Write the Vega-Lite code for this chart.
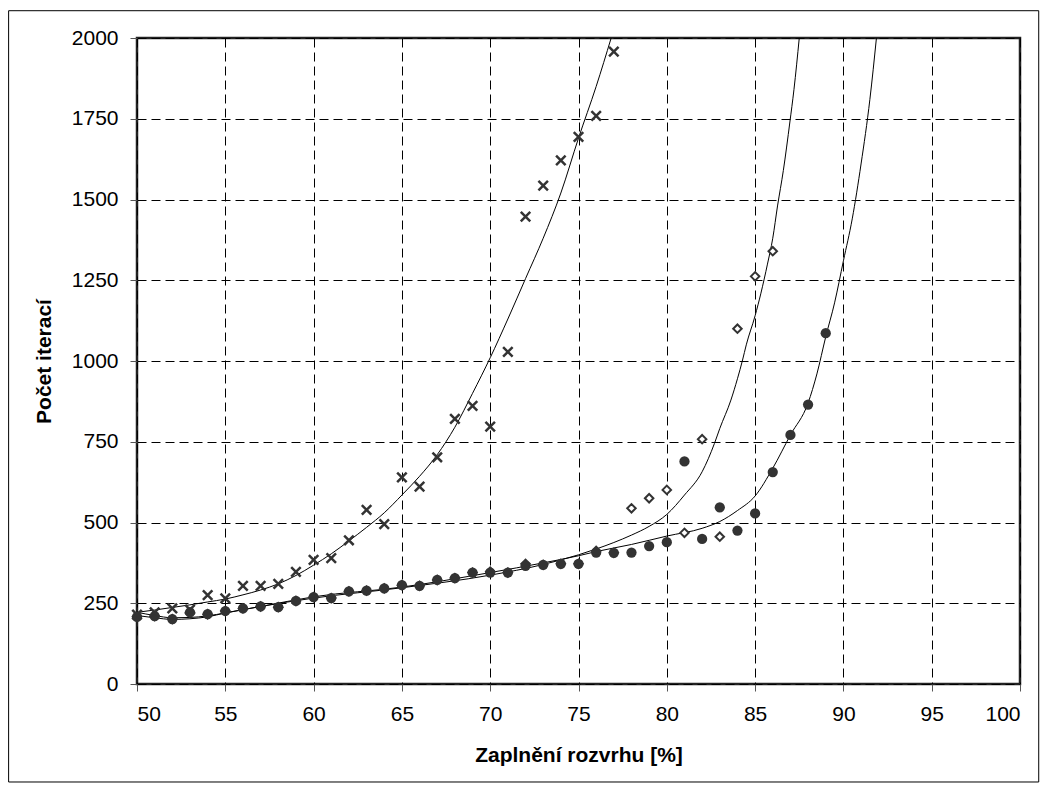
{
  "$schema": "https://vega.github.io/schema/vega-lite/v6.json",
  "width": 883,
  "height": 646,
  "autosize": {"type": "none"},
  "padding": {"left": 137, "top": 38, "right": 24, "bottom": 107},
  "background": "white",
  "config": {
    "font": "Liberation Sans",
    "view": {"stroke": "#222", "strokeWidth": 2.5},
    "axis": {
      "labelFont": "Liberation Sans",
      "labelFontSize": 21,
      "labelColor": "#000",
      "titleFont": "Liberation Sans",
      "titleFontSize": 21,
      "titleFontWeight": "bold",
      "titleColor": "#000",
      "domain": false,
      "tickColor": "#555",
      "tickSize": 7,
      "tickWidth": 1,
      "grid": true,
      "gridColor": "#000",
      "gridDash": [9, 5],
      "gridWidth": 1,
      "gridOpacity": 1
    }
  },
  "datasets": {
    "pts": [
      {"x": 50, "y": 208, "s": "d"}, {"x": 51, "y": 210, "s": "d"}, {"x": 52, "y": 201, "s": "d"}, {"x": 53, "y": 222, "s": "d"}, {"x": 54, "y": 216, "s": "d"}, {"x": 55, "y": 226, "s": "d"}, {"x": 56, "y": 234, "s": "d"}, {"x": 57, "y": 240, "s": "d"}, {"x": 58, "y": 238, "s": "d"}, {"x": 59, "y": 257, "s": "d"}, {"x": 60, "y": 269, "s": "d"}, {"x": 61, "y": 266, "s": "d"}, {"x": 62, "y": 287, "s": "d"}, {"x": 63, "y": 289, "s": "d"}, {"x": 64, "y": 296, "s": "d"}, {"x": 65, "y": 306, "s": "d"}, {"x": 66, "y": 304, "s": "d"}, {"x": 67, "y": 322, "s": "d"}, {"x": 68, "y": 328, "s": "d"}, {"x": 69, "y": 345, "s": "d"}, {"x": 70, "y": 348, "s": "d"}, {"x": 71, "y": 345, "s": "d"}, {"x": 72, "y": 372, "s": "d"}, {"x": 73, "y": 369, "s": "d"}, {"x": 74, "y": 372, "s": "d"}, {"x": 75, "y": 372, "s": "d"}, {"x": 76, "y": 412, "s": "d"}, {"x": 77, "y": 406, "s": "d"},
      {"x": 78, "y": 544, "s": "d"}, {"x": 79, "y": 575, "s": "d"}, {"x": 80, "y": 601, "s": "d"}, {"x": 81, "y": 468, "s": "d"}, {"x": 82, "y": 758, "s": "d"}, {"x": 83, "y": 456, "s": "d"}, {"x": 84, "y": 1100, "s": "d"}, {"x": 85, "y": 1262, "s": "d"}, {"x": 86, "y": 1340, "s": "d"},
      {"x": 50, "y": 208, "s": "c"}, {"x": 51, "y": 210, "s": "c"}, {"x": 52, "y": 201, "s": "c"}, {"x": 53, "y": 222, "s": "c"}, {"x": 54, "y": 216, "s": "c"}, {"x": 55, "y": 226, "s": "c"}, {"x": 56, "y": 234, "s": "c"}, {"x": 57, "y": 240, "s": "c"}, {"x": 58, "y": 238, "s": "c"}, {"x": 59, "y": 257, "s": "c"}, {"x": 60, "y": 269, "s": "c"}, {"x": 61, "y": 266, "s": "c"}, {"x": 62, "y": 287, "s": "c"}, {"x": 63, "y": 289, "s": "c"}, {"x": 64, "y": 296, "s": "c"}, {"x": 65, "y": 306, "s": "c"}, {"x": 66, "y": 304, "s": "c"}, {"x": 67, "y": 322, "s": "c"}, {"x": 68, "y": 328, "s": "c"}, {"x": 69, "y": 345, "s": "c"}, {"x": 70, "y": 345, "s": "c"}, {"x": 71, "y": 345, "s": "c"}, {"x": 72, "y": 366, "s": "c"}, {"x": 73, "y": 369, "s": "c"}, {"x": 74, "y": 372, "s": "c"}, {"x": 75, "y": 372, "s": "c"}, {"x": 76, "y": 407, "s": "c"}, {"x": 77, "y": 406, "s": "c"}, {"x": 78, "y": 407, "s": "c"}, {"x": 79, "y": 427, "s": "c"}, {"x": 80, "y": 439, "s": "c"}, {"x": 81, "y": 689, "s": "c"}, {"x": 82, "y": 449, "s": "c"}, {"x": 83, "y": 547, "s": "c"}, {"x": 84, "y": 475, "s": "c"}, {"x": 85, "y": 528, "s": "c"}, {"x": 86, "y": 656, "s": "c"}, {"x": 87, "y": 771, "s": "c"}, {"x": 88, "y": 865, "s": "c"}, {"x": 89, "y": 1086, "s": "c"},
      {"x": 50, "y": 215, "s": "x"}, {"x": 51, "y": 222, "s": "x"}, {"x": 52, "y": 234, "s": "x"}, {"x": 53, "y": 230, "s": "x"}, {"x": 54, "y": 275, "s": "x"}, {"x": 55, "y": 265, "s": "x"}, {"x": 56, "y": 304, "s": "x"}, {"x": 57, "y": 304, "s": "x"}, {"x": 58, "y": 310, "s": "x"}, {"x": 59, "y": 347, "s": "x"}, {"x": 60, "y": 384, "s": "x"}, {"x": 61, "y": 390, "s": "x"}, {"x": 62, "y": 445, "s": "x"}, {"x": 63, "y": 539, "s": "x"}, {"x": 64, "y": 495, "s": "x"}, {"x": 65, "y": 640, "s": "x"}, {"x": 66, "y": 611, "s": "x"}, {"x": 67, "y": 702, "s": "x"}, {"x": 68, "y": 821, "s": "x"}, {"x": 69, "y": 861, "s": "x"}, {"x": 70, "y": 797, "s": "x"}, {"x": 71, "y": 1028, "s": "x"}, {"x": 72, "y": 1447, "s": "x"}, {"x": 73, "y": 1543, "s": "x"}, {"x": 74, "y": 1621, "s": "x"}, {"x": 75, "y": 1694, "s": "x"}, {"x": 76, "y": 1759, "s": "x"}, {"x": 77, "y": 1958, "s": "x"}
    ],
    "fits": [
      {"x": 50, "y": 222, "s": "x"}, {"x": 51, "y": 229, "s": "x"}, {"x": 52, "y": 237, "s": "x"}, {"x": 53, "y": 245, "s": "x"}, {"x": 54, "y": 254, "s": "x"}, {"x": 55, "y": 263, "s": "x"}, {"x": 56, "y": 276, "s": "x"}, {"x": 57, "y": 291, "s": "x"}, {"x": 58, "y": 310, "s": "x"}, {"x": 59, "y": 336, "s": "x"}, {"x": 60, "y": 368, "s": "x"}, {"x": 61, "y": 403, "s": "x"}, {"x": 62, "y": 443, "s": "x"}, {"x": 63, "y": 485, "s": "x"}, {"x": 64, "y": 530, "s": "x"}, {"x": 65, "y": 585, "s": "x"}, {"x": 66, "y": 643, "s": "x"}, {"x": 67, "y": 710, "s": "x"}, {"x": 68, "y": 795, "s": "x"}, {"x": 69, "y": 900, "s": "x"}, {"x": 70, "y": 1010, "s": "x"}, {"x": 71, "y": 1130, "s": "x"}, {"x": 72, "y": 1255, "s": "x"}, {"x": 73, "y": 1380, "s": "x"}, {"x": 74, "y": 1520, "s": "x"}, {"x": 75, "y": 1690, "s": "x"}, {"x": 76, "y": 1850, "s": "x"}, {"x": 76.85, "y": 2000, "s": "x"},
      {"x": 50, "y": 222, "s": "d"}, {"x": 51, "y": 212, "s": "d"}, {"x": 52, "y": 205, "s": "d"}, {"x": 53, "y": 206, "s": "d"}, {"x": 54, "y": 211, "s": "d"}, {"x": 55, "y": 220, "s": "d"}, {"x": 57, "y": 240, "s": "d"}, {"x": 60, "y": 266, "s": "d"}, {"x": 65, "y": 298, "s": "d"}, {"x": 70, "y": 337, "s": "d"}, {"x": 73, "y": 370, "s": "d"}, {"x": 75, "y": 400, "s": "d"}, {"x": 76, "y": 418, "s": "d"}, {"x": 77, "y": 438, "s": "d"}, {"x": 78, "y": 461, "s": "d"}, {"x": 79, "y": 488, "s": "d"}, {"x": 80, "y": 525, "s": "d"}, {"x": 81, "y": 585, "s": "d"}, {"x": 82, "y": 657, "s": "d"}, {"x": 82.7, "y": 745, "s": "d"}, {"x": 83, "y": 791, "s": "d"}, {"x": 83.63, "y": 879, "s": "d"}, {"x": 84, "y": 945, "s": "d"}, {"x": 84.29, "y": 1003, "s": "d"}, {"x": 84.5, "y": 1050, "s": "d"}, {"x": 85, "y": 1140, "s": "d"}, {"x": 85.33, "y": 1210, "s": "d"}, {"x": 85.7, "y": 1300, "s": "d"}, {"x": 86, "y": 1380, "s": "d"}, {"x": 86.27, "y": 1480, "s": "d"}, {"x": 86.6, "y": 1590, "s": "d"}, {"x": 86.97, "y": 1740, "s": "d"}, {"x": 87.2, "y": 1840, "s": "d"}, {"x": 87.5, "y": 2000, "s": "d"},
      {"x": 50, "y": 212, "s": "c"}, {"x": 51, "y": 205, "s": "c"}, {"x": 52, "y": 200, "s": "c"}, {"x": 53, "y": 202, "s": "c"}, {"x": 54, "y": 208, "s": "c"}, {"x": 55, "y": 220, "s": "c"}, {"x": 57, "y": 240, "s": "c"}, {"x": 60, "y": 270, "s": "c"}, {"x": 65, "y": 300, "s": "c"}, {"x": 70, "y": 345, "s": "c"}, {"x": 73, "y": 375, "s": "c"}, {"x": 75, "y": 397, "s": "c"}, {"x": 76, "y": 410, "s": "c"}, {"x": 78, "y": 432, "s": "c"}, {"x": 80, "y": 458, "s": "c"}, {"x": 82, "y": 482, "s": "c"}, {"x": 83, "y": 503, "s": "c"}, {"x": 84, "y": 537, "s": "c"}, {"x": 85, "y": 582, "s": "c"}, {"x": 86, "y": 668, "s": "c"}, {"x": 87, "y": 771, "s": "c"}, {"x": 88, "y": 870, "s": "c"}, {"x": 88.5, "y": 960, "s": "c"}, {"x": 89, "y": 1075, "s": "c"}, {"x": 89.5, "y": 1180, "s": "c"}, {"x": 90, "y": 1310, "s": "c"}, {"x": 90.5, "y": 1440, "s": "c"}, {"x": 91, "y": 1610, "s": "c"}, {"x": 91.5, "y": 1810, "s": "c"}, {"x": 91.87, "y": 2000, "s": "c"}
    ]
  },
  "layer": [
    {
      "data": {"values": [{"x1": 42.73, "x2": 101.06, "y1": -303.4, "y2": 2084.5}]},
      "mark": {"type": "rect", "filled": false, "stroke": "#000", "strokeWidth": 1, "clip": false},
      "encoding": {
        "x": {"field": "x1", "type": "quantitative"},
        "x2": {"field": "x2"},
        "y": {"field": "y1", "type": "quantitative"},
        "y2": {"field": "y2"}
      }
    },
    {
      "data": {"name": "fits"},
      "mark": {"type": "line", "color": "#000", "strokeWidth": 1, "interpolate": "monotone", "clip": true},
      "encoding": {
        "x": {"field": "x", "type": "quantitative", "scale": {"domain": [50, 100], "nice": false, "zero": false},
          "axis": {"values": [50, 55, 60, 65, 70, 75, 80, 85, 90, 95, 100], "title": "Zaplnění rozvrhu [%]", "labelPadding": 12, "titlePadding": 20}},
        "y": {"field": "y", "type": "quantitative", "scale": {"domain": [0, 2000], "nice": false},
          "axis": {"values": [0, 250, 500, 750, 1000, 1250, 1500, 1750, 2000], "format": "d", "title": "Počet iterací", "labelPadding": 12, "titlePadding": 17}},
        "detail": {"field": "s"}
      }
    },
    {
      "data": {"name": "pts"},
      "transform": [{"filter": "datum.s == 'd'"}],
      "mark": {"type": "point", "shape": "diamond", "filled": true, "fill": "white", "stroke": "#333", "strokeWidth": 2, "size": 72, "opacity": 1},
      "encoding": {
        "x": {"field": "x", "type": "quantitative"},
        "y": {"field": "y", "type": "quantitative"}
      }
    },
    {
      "data": {"name": "pts"},
      "transform": [{"filter": "datum.s == 'c'"}],
      "mark": {"type": "point", "shape": "circle", "filled": true, "color": "#333", "size": 105, "opacity": 1},
      "encoding": {
        "x": {"field": "x", "type": "quantitative"},
        "y": {"field": "y", "type": "quantitative"}
      }
    },
    {
      "data": {"name": "pts"},
      "transform": [{"filter": "datum.s == 'x'"}],
      "mark": {"type": "point", "shape": "M-1,-1L1,1M-1,1L1,-1", "filled": false, "stroke": "#333", "strokeWidth": 2.5, "size": 90, "opacity": 1},
      "encoding": {
        "x": {"field": "x", "type": "quantitative"},
        "y": {"field": "y", "type": "quantitative"}
      }
    }
  ]
}
